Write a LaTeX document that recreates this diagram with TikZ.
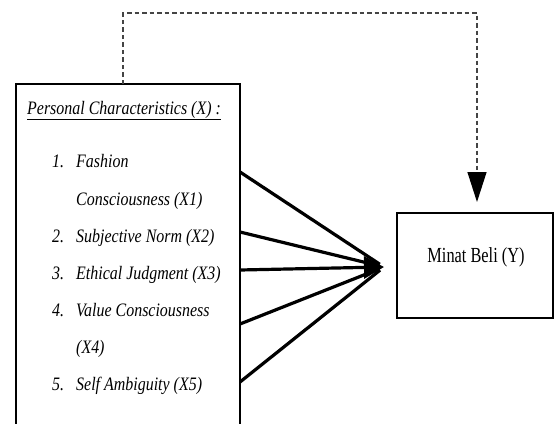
\documentclass[tikz,border=0pt]{standalone}
\usepackage{fontspec}
\setmainfont{Liberation Serif}
\usepackage{graphicx}
\usetikzlibrary{arrows.meta}
\newcommand{\condit}[1]{\scalebox{0.84}[1]{\fontsize{19}{21}\selectfont\itshape #1}}
\newcommand{\condup}[1]{\scalebox{0.76}[1]{\fontsize{21.5}{24}\selectfont #1}}
\definecolor{dashgrey}{HTML}{444444}
\begin{document}
\begin{tikzpicture}[x=1pt,y=-1pt,
  box/.style={draw, line width=2.8pt, inner sep=0pt},
  item/.style={anchor=base west, inner sep=0pt},
  conn/.style={line width=3.2pt},
  dashline/.style={draw=dashgrey, line width=1.3pt, dash pattern=on 4.5pt off 3pt}]
\useasboundingbox (0,0) rectangle (554,423);
\clip (0,0) rectangle (554,423);
\fill[white] (0,0) rectangle (554,423);
% left box
\node[box, minimum width=224pt, minimum height=360pt] (px) at (128,264) {};
\node[item] (hd) at (27,114) {\condit{\underline{Personal Characteristics (X) :}}};
\node[item] (n1) at (52,167) {\condit{1.}};
\node[item] (t1) at (76,167) {\condit{Fashion}};
\node[item] (t1b) at (76,205) {\condit{Consciousness (X1)}};
\node[item] (n2) at (52,242) {\condit{2.}};
\node[item] (t2) at (76,242) {\condit{Subjective Norm (X2)}};
\node[item] (n3) at (52,279) {\condit{3.}};
\node[item] (t3) at (76,279) {\condit{Ethical Judgment (X3)}};
\node[item] (n4) at (52,316) {\condit{4.}};
\node[item] (t4) at (76,316) {\condit{Value Consciousness}};
\node[item] (t4b) at (76,353) {\condit{(X4)}};
\node[item] (n5) at (52,390) {\condit{5.}};
\node[item] (t5) at (76,390) {\condit{Self Ambiguity (X5)}};
% right box
\node[box, minimum width=156pt, minimum height=105pt] (y) at (475,265.5) {};
\node[inner sep=0pt] (ytext) at (476,257) {\condup{Minat Beli (Y)}};
% converging connectors
\coordinate (s1) at (240,172);
\coordinate (s2) at (240,232);
\coordinate (s3) at (240,270);
\coordinate (s4) at (240,324);
\coordinate (s5) at (240,382);
\coordinate (tip) at (384,267);
\draw[conn, shorten >=5pt] (s1) -- (tip);
\draw[conn, shorten >=5pt] (s2) -- (tip);
\draw[conn, shorten >=5pt] (s4) -- (tip);
\draw[conn, shorten >=5pt] (s5) -- (tip);
\draw[conn, -{Triangle[length=20pt,width=22pt]}] (s3) -- (tip);
% dashed connector
\coordinate (d0) at (123,84);
\coordinate (d1) at (123,13);
\coordinate (d2) at (477,13);
\coordinate (d3a) at (477,174);
\coordinate (d3) at (477,202);
\draw[dashline] (d0) -- (d1) -- (d2) -- (d3a);
\draw[line width=1.3pt, -{Triangle[length=30pt,width=19pt]}] (d3a) -- (d3);
\end{tikzpicture}
\end{document}
